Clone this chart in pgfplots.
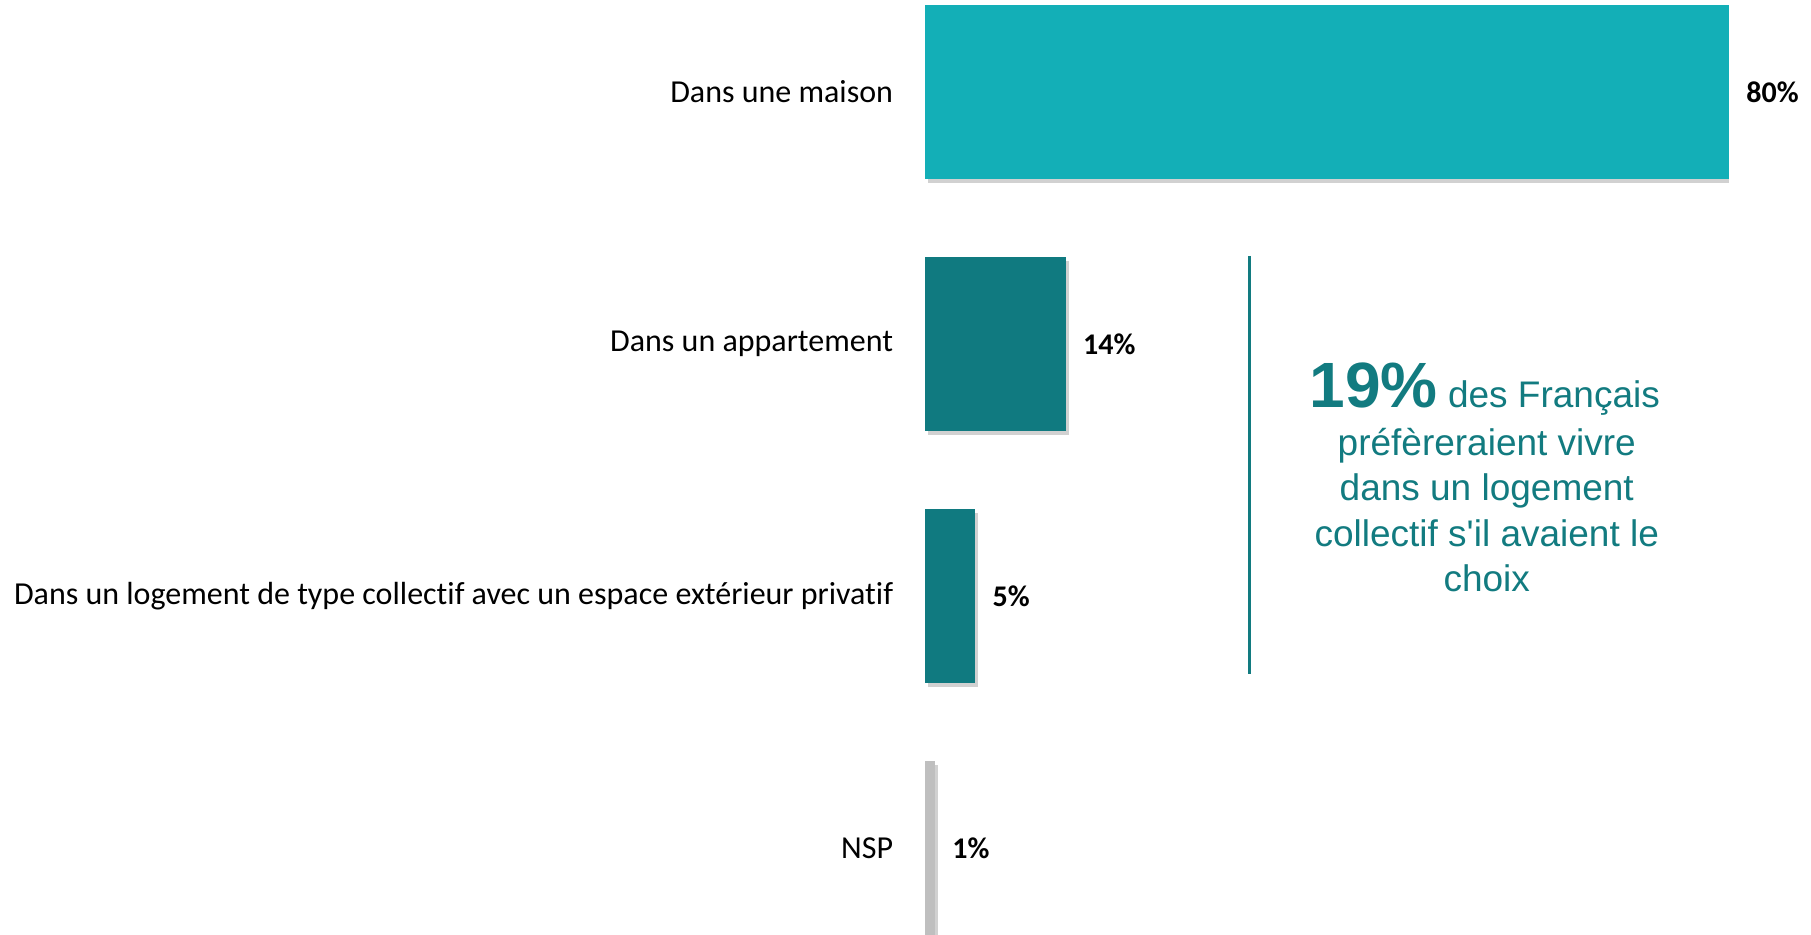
\documentclass[border=0pt]{standalone}
\usepackage{pgfplots}
\pgfplotsset{compat=1.18}
\usepackage{fontspec}
\setmainfont[Ligatures=NoCommon]{Carlito}
\newfontfamily\arial{Liberation Sans}
\usetikzlibrary{shadows}
\definecolor{tealA}{HTML}{13AFB7}
\definecolor{tealB}{HTML}{107A80}
\definecolor{greyC}{HTML}{BFBFBF}
\definecolor{txtteal}{HTML}{127B80}
\begin{document}
\begin{tikzpicture}
\path[use as bounding box] (0,0) rectangle (905.5pt,467.5pt);
\begin{axis}[
  at={(462.5pt,0pt)}, anchor=south west,
  scale only axis, width=402pt, height=467.5pt,
  xmin=0, xmax=80,
  ymin=-0.365, ymax=3.345, y dir=reverse,
  xbar, bar width=87pt, bar shift=0pt,
  axis line style={draw=none}, tick style={draw=none},
  xtick=\empty,
  ytick={0,1,2,3},
  yticklabels={Dans une maison, Dans un appartement, Dans un logement de type collectif avec un espace extérieur privatif, NSP},
  yticklabel style={font=\fontsize{16}{19}\selectfont, inner sep=0pt, xshift=-11.5pt},
  /pgf/number format/assume math mode=true,
  nodes near coords={\pgfmathprintnumber[assume math mode=true]{\pgfplotspointmeta}\%},
  every node near coord/.append style={font=\fontsize{15}{18}\selectfont\bfseries, anchor=west, inner sep=0pt, xshift=8.5pt, black},
  shadowed/.style={drop shadow={shadow xshift=1.5pt, shadow yshift=-2pt, opacity=0.18, fill=black}},
]
\addplot[fill=tealA, draw=none, shadowed] coordinates {(80,0)};
\addplot[fill=tealB, draw=none, shadowed] coordinates {(14,1)};
\addplot[fill=tealB, draw=none, shadowed] coordinates {(5,2)};
\addplot[fill=greyC, draw=none, shadowed] coordinates {(1,3)};
\draw[txtteal, line width=1.2pt] (axis cs:32.3,0.65) -- (axis cs:32.3,2.31);
\node[anchor=base, inner sep=0pt, txtteal, font=\arial\fontsize{18.5}{22}\selectfont] at (axis cs:55.7,1.25) {{\fontsize{32}{36}\selectfont\bfseries 19\%} des Français};
\node[anchor=base, inner sep=0pt, txtteal, font=\arial\fontsize{18.5}{22}\selectfont] at (axis cs:55.9,1.443) {préfèreraient vivre};
\node[anchor=base, inner sep=0pt, txtteal, font=\arial\fontsize{18.5}{22}\selectfont] at (axis cs:55.9,1.621) {dans un logement};
\node[anchor=base, inner sep=0pt, txtteal, font=\arial\fontsize{18.5}{22}\selectfont] at (axis cs:55.9,1.804) {collectif s'il avaient le};
\node[anchor=base, inner sep=0pt, txtteal, font=\arial\fontsize{18.5}{22}\selectfont] at (axis cs:55.9,1.982) {choix};
\end{axis}
\end{tikzpicture}
\end{document}
